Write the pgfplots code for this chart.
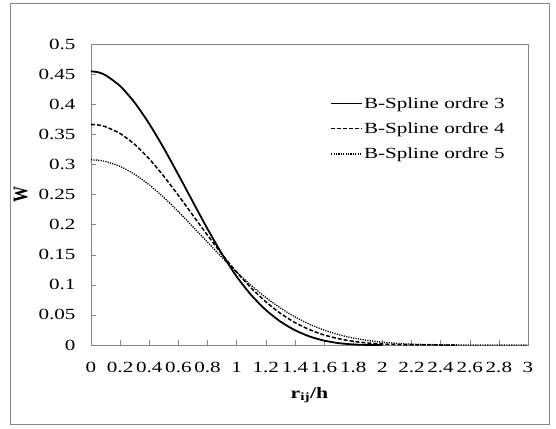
\documentclass[border=0pt]{standalone}
\usepackage{pgfplots}
\pgfplotsset{compat=1.18}
\usepackage{graphicx}
\usepackage{fontspec}
\setmainfont{Liberation Serif}[FakeStretch=1.36]
\newfontfamily\plainserif{Liberation Serif}
\definecolor{framegray}{RGB}{134,134,134}

\begin{document}
\begin{tikzpicture}
\begin{axis}[
    name=ax,
    scale only axis,
    width=437pt, height=301pt,
    xmin=0, xmax=3, ymin=0, ymax=0.5,
    xtick={0,0.2,0.4,0.6,0.8,1,1.2,1.4,1.6,1.8,2,2.2,2.4,2.6,2.8,3},
    ytick={0,0.05,0.1,0.15,0.2,0.25,0.3,0.35,0.4,0.45,0.5},
    xtick pos=left, ytick pos=left,
    tick align=inside,
    major tick length=5pt,
    axis line style={framegray},
    every tick/.style={framegray},
    /pgf/number format/fixed,
    /pgf/number format/precision=2,
    /pgf/number format/assume math mode=true,
    scaled ticks=false,
    ticklabel style={font=\fontsize{15.5}{17}\selectfont},
    yticklabel style={xshift=-12pt},
    xticklabel style={yshift=-14pt},
    xlabel={\textbf{r\textsubscript{ij}/h}},
    ylabel={\scalebox{1}[1.3]{\plainserif\bfseries W}},
    label style={font=\fontsize{16}{18}\selectfont},
    xlabel style={yshift=-7pt},
    ylabel style={yshift=4pt, font=\fontsize{16}{18}\selectfont},
    legend style={at={(0.547,0.827)}, anchor=north west, draw=none, fill=none,
        font=\fontsize{15.5}{17}\selectfont, row sep=11pt, inner sep=0pt,
        nodes={inner sep=1pt}},
    legend cell align=left,
    legend image code/.code={\draw[#1] (0pt,0pt) -- (31pt,0pt);},
]
\addplot[black, line width=1.8pt, smooth, tension=0.4] coordinates {
 (0,0.4547) (0.05,0.4530) (0.1,0.4482) (0.2,0.4302) (0.3,0.4026) (0.4,0.3674) (0.5,0.3268)
 (0.6,0.2828) (0.7,0.2375) (0.8,0.1928) (0.9,0.1509) (1.0,0.1137)
 (1.1,0.0829) (1.2,0.0582) (1.3,0.0390) (1.4,0.0246) (1.5,0.0142)
 (1.6,0.0073) (1.7,0.0031) (1.8,0.0009) (1.9,0.0001) (2.0,0)
};
\addlegendentry{B-Spline ordre 3}
\addplot[black, line width=1.5pt, dash pattern=on 4pt off 2pt, smooth, tension=0.4] coordinates {
 (0,0.3664) (0.05,0.3654) (0.1,0.3626) (0.2,0.3513) (0.3,0.3332) (0.4,0.3091) (0.5,0.2803)
 (0.6,0.2485) (0.7,0.2153) (0.8,0.1823) (0.9,0.1505) (1.0,0.1211)
 (1.1,0.0946) (1.2,0.0718) (1.3,0.0526) (1.4,0.0373) (1.5,0.0255)
 (1.6,0.0167) (1.7,0.0104) (1.8,0.0061) (1.9,0.0033) (2.0,0.0016)
 (2.1,0.0007) (2.2,0.0002) (2.3,0.00004) (2.4,0) (2.5,0)
};
\addlegendentry{B-Spline ordre 4}
\addplot[black, line width=1.3pt, dash pattern=on 1.2pt off 1.2pt, smooth, tension=0.4] coordinates {
 (0,0.3077) (0.05,0.3069) (0.1,0.3049) (0.2,0.2967) (0.3,0.2835) (0.4,0.2660) (0.5,0.2450)
 (0.6,0.2215) (0.7,0.1963) (0.8,0.1707) (0.9,0.1453) (1.0,0.1212)
 (1.1,0.0989) (1.2,0.0789) (1.3,0.0615) (1.4,0.0467) (1.5,0.0345)
 (1.6,0.0248) (1.7,0.0172) (1.8,0.0116) (1.9,0.0075) (2.0,0.0047)
 (2.1,0.0028) (2.2,0.0015) (2.3,0.0008) (2.4,0.0004) (2.5,0.0002)
 (2.6,0.0001) (2.7,0.00001) (2.8,0) (2.9,0) (3.0,0)
};
\addlegendentry{B-Spline ordre 5}
\end{axis}
\draw[framegray, line width=0.8pt] ([xshift=-81pt,yshift=-79pt]ax.south west)
    rectangle ([xshift=21pt,yshift=41pt]ax.north east);
\pgfresetboundingbox
\path[use as bounding box] ([xshift=-91pt,yshift=-83pt]ax.south west)
    rectangle ([xshift=28pt,yshift=44pt]ax.north east);
\end{tikzpicture}
\end{document}
